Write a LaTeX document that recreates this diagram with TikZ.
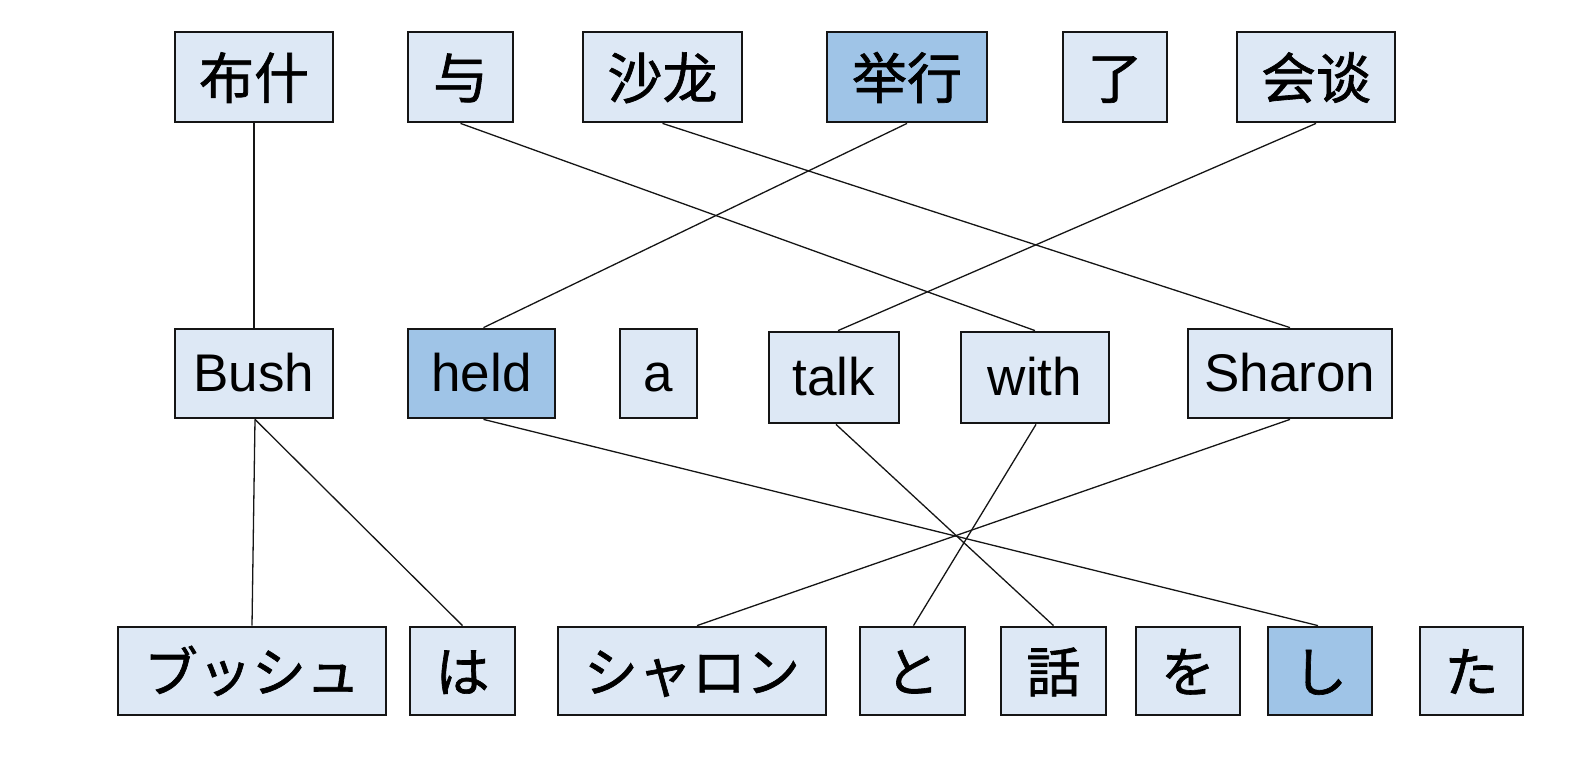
\documentclass[tikz,border=0pt]{standalone}
\usepackage{fontspec}
\setmainfont{Liberation Sans}
\newfontfamily\zhfont[FakeBold=1.2]{Noto Sans CJK SC}
\newfontfamily\jafont[FakeBold=1.2]{Noto Sans CJK JP}
\definecolor{lightfill}{HTML}{DDE8F5}
\definecolor{darkfill}{HTML}{9FC4E7}
\definecolor{edgecol}{HTML}{151515}
\begin{document}
\begin{tikzpicture}[x=1pt,y=-1pt,
  wbox/.style={draw=edgecol,line width=2.8pt,fill=lightfill,inner sep=0pt,
    font=\fontsize{53}{60}\selectfont, text height=38pt, text depth=2pt},
  hbox/.style={wbox,fill=darkfill},
  zh/.style={font=\zhfont\fontsize{55}{60}\selectfont,text height=47pt,text depth=4pt},
  ja/.style={font=\jafont\fontsize{54}{60}\selectfont,text height=46pt,text depth=4pt},
  link/.style={draw=edgecol,line width=1.3pt}]
\useasboundingbox (0,0) rectangle (1570,758);
% row 1: Chinese
\node[wbox,zh,minimum width=158pt,minimum height=90pt] (z1) at (254,77) {布什};
\node[wbox,zh,minimum width=105pt,minimum height=90pt] (z2) at (460.5,77) {与};
\node[wbox,zh,minimum width=159pt,minimum height=90pt] (z3) at (662.5,77) {沙龙};
\node[hbox,zh,minimum width=160pt,minimum height=90pt] (z4) at (907,77) {举行};
\node[wbox,zh,minimum width=104pt,minimum height=90pt] (z5) at (1115,77) {了};
\node[wbox,zh,minimum width=158pt,minimum height=90pt] (z6) at (1316,77) {会谈};
% row 2: English
\node[wbox,minimum width=158pt,minimum height=89pt] (e1) at (254,373.5) {Bush};
\node[hbox,minimum width=147pt,minimum height=89pt] (e2) at (481.5,373.5) {held};
\node[wbox,minimum width=77pt,minimum height=89pt] (e3) at (658.5,373.5) {a};
\node[wbox,minimum width=130pt,minimum height=91pt] (e4) at (834,377.5) {talk};
\node[wbox,minimum width=148pt,minimum height=91pt] (e5) at (1035,377.5) {with};
\node[wbox,minimum width=204pt,minimum height=89pt] (e6) at (1290,373.5) {Sharon};
% row 3: Japanese
\node[wbox,ja,minimum width=268pt,minimum height=88pt] (j1) at (252,671) {ブッシュ};
\node[wbox,ja,minimum width=105pt,minimum height=88pt] (j2) at (462.5,671) {は};
\node[wbox,ja,minimum width=268pt,minimum height=88pt] (j3) at (692,671) {シャロン};
\node[wbox,ja,minimum width=105pt,minimum height=88pt] (j4) at (912.5,671) {と};
\node[wbox,ja,minimum width=105pt,minimum height=88pt] (j5) at (1053.5,671) {話};
\node[wbox,ja,minimum width=104pt,minimum height=88pt] (j6) at (1188,671) {を};
\node[hbox,ja,minimum width=104pt,minimum height=88pt] (j7) at (1320,671) {し};
\node[wbox,ja,minimum width=103pt,minimum height=88pt] (j8) at (1471.5,671) {た};
% links Chinese - English
\draw[link] (z1.south) -- (e1.north);
\draw[link] (z2.south) -- (e5.north);
\draw[link] (z3.south) -- (e6.north);
\draw[link] (z4.south) -- ([xshift=2pt]e2.north);
\draw[link] (z6.south) -- ([xshift=4pt]e4.north);
% links English - Japanese
\draw[link] ([xshift=1pt]e1.south) -- (j1.north);
\draw[link] ([xshift=1pt]e1.south) -- (j2.north);
\draw[link] ([xshift=2pt]e2.south) -- ([xshift=-2pt]j7.north);
\draw[link] ([xshift=2pt]e4.south) -- (j5.north);
\draw[link] ([xshift=1pt]e5.south) -- ([xshift=1pt]j4.north);
\draw[link] (e6.south) -- ([xshift=5pt]j3.north);
\end{tikzpicture}
\end{document}
